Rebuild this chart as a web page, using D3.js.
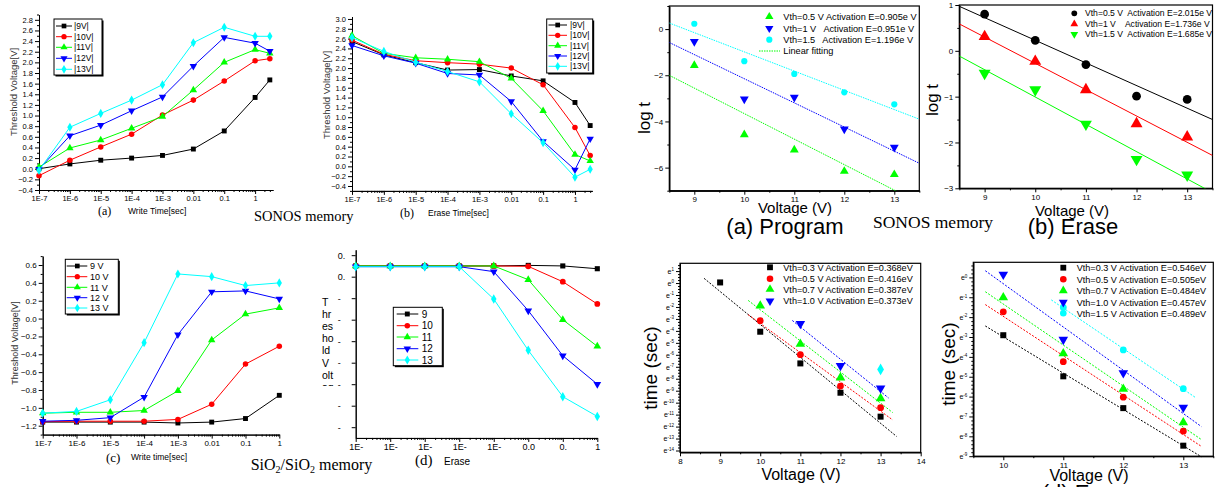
<!DOCTYPE html>
<html>
<head>
<meta charset="UTF-8">
<style>
  body { margin: 0; background: #fff; }
  svg { display: block; }
  text { font-family: "Liberation Sans", Arial, sans-serif; fill: #000; }
  .serif { font-family: "Liberation Serif", "Times New Roman", serif; }
  .pre { white-space: pre; }
</style>
<script src="https://cdn.jsdelivr.net/npm/d3@7"></script>
</head>
<body>
<script>
// ---------- data ----------
var timeSonos = [1e-7, 1e-6, 1e-5, 1e-4, 1e-3, 0.01, 0.1, 1, 3];
var timeOxide = [1e-7, 1e-6, 1e-5, 1e-4, 1e-3, 0.01, 0.1, 1];
var timeTickLabels = ["1E-7", "1E-6", "1E-5", "1E-4", "1E-3", "0.01", "0.1", "1"];
var timeTickLabelsCut = ["1E-", "1E-", "1E-", "1E-", "1E-", "0.0", "0.", "1"];
var sonosNames = ["|9V|", "|10V|", "|11V|", "|12V|", "|13V|"];
var oxideNames = ["9 V", "10 V", "11 V", "12 V", "13 V"];
var oxideEraseNames = ["9", "10", "11", "12", "13"];

// (a) SONOS write
var sonosWrite9  = [0.00, 0.09, 0.16, 0.20, 0.25, 0.37, 0.71, 1.34, 1.67];
var sonosWrite10 = [-0.13, 0.16, 0.41, 0.65, 1.01, 1.29, 1.65, 2.03, 2.07];
var sonosWrite11 = [0.03, 0.39, 0.54, 0.76, 0.98, 1.48, 2.00, 2.24, 2.17];
var sonosWrite12 = [-0.01, 0.62, 0.82, 1.09, 1.35, 1.93, 2.47, 2.36, 2.21];
var sonosWrite13 = [-0.03, 0.78, 1.04, 1.29, 1.58, 2.37, 2.66, 2.49, 2.49];

// (b) SONOS erase
var sonosErase9  = [2.54, 2.27, 2.11, 1.96, 1.97, 1.84, 1.74, 1.30, 0.83];
var sonosErase10 = [2.57, 2.28, 2.15, 2.11, 2.08, 2.00, 1.66, 0.79, 0.22];
var sonosErase11 = [2.66, 2.30, 2.21, 2.18, 2.13, 1.79, 1.13, 0.24, 0.11];
var sonosErase12 = [2.46, 2.25, 2.10, 1.89, 1.86, 1.32, 0.51, -0.07, 0.56];
var sonosErase13 = [2.62, 2.34, 2.12, 1.93, 1.72, 1.07, 0.48, -0.22, -0.06];

// (c) SiO2 write
var oxWrite9  = [-1.16, -1.16, -1.16, -1.16, -1.17, -1.16, -1.12, -0.86];
var oxWrite10 = [-1.155, -1.15, -1.15, -1.15, -1.13, -0.96, -0.51, -0.31];
var oxWrite11 = [-1.06, -1.05, -1.05, -1.03, -0.81, -0.24, 0.05, 0.12];
var oxWrite12 = [-1.15, -1.14, -1.11, -0.88, -0.18, 0.30, 0.31, 0.22];
var oxWrite13 = [-1.06, -1.04, -0.91, -0.27, 0.50, 0.47, 0.37, 0.40];

// (d) SiO2 erase
var oxErase9  = [0.10, 0.10, 0.10, 0.10, 0.10, 0.105, 0.10, 0.074];
var oxErase10 = [0.10, 0.10, 0.10, 0.10, 0.10, 0.096, -0.047, -0.254];
var oxErase11 = [0.10, 0.10, 0.10, 0.10, 0.10, -0.028, -0.40, -0.648];
var oxErase12 = [0.093, 0.093, 0.093, 0.093, 0.047, -0.316, -0.735, -1.00];
var oxErase13 = [0.093, 0.093, 0.093, 0.093, -0.208, -0.685, -1.116, -1.30];
var oxEraseYLabel = ["T", "hr", "es", "ho", "ld", "V", "olt", "ag"];

// SONOS activation, log t vs voltage
var voltages = [9, 10, 11, 12, 13];
var progNames = ["Vth=0.5 V Activation E=0.905e V", "Vth=1 V   Activation E=0.951e V", "Vth=1.5   Activation E=1.196e V"];
var progVth05 = [-1.57, -4.57, -5.23, -6.16, -6.30];
var progVth10 = [-0.54, -3.03, -2.96, -4.33, -5.12];
var progVth15 = [0.23, -1.39, -1.94, -2.74, -3.26];

var eraseNames = ["Vth=0.5 V  Activation E=2.015e V", "Vth=1 V    Activation E=1.736e V", "Vth=1.5 V  Activation E=1.685e V"];
var eraseVth05 = [0.80, 0.23, -0.30, -0.99, -1.06];
var eraseVth10 = [0.31, -0.23, -0.85, -1.59, -1.88];
var eraseVth15 = [-0.49, -0.85, -1.60, -2.37, -2.71];

// SiO2 activation, ln t vs voltage
var oxProgNames = ["Vth=0.3 V Activation E=0.368eV", "Vth=0.5 V Activation E=0.416eV", "Vth=0.7 V Activation E=0.387eV", "Vth=1.0 V Activation E=0.373eV"];
var oxProgX03 = [9, 10, 11, 12, 13],  oxProgY03 = [0.05, -4.07, -6.72, -9.17, -11.17];
var oxProgX05 = [10, 11, 12, 13],     oxProgY05 = [-3.15, -5.99, -8.61, -10.42];
var oxProgX07 = [10, 11, 12, 13],     oxProgY07 = [-1.90, -5.10, -7.91, -9.64];
var oxProgX10 = [11, 12, 13],         oxProgY10 = [-3.40, -6.91, -8.80];
var oxProgX15 = [13],                 oxProgY15 = [-7.22];

var oxEraseNames = ["Vth=0.3 V Activation E=0.546eV", "Vth=0.5 V Activation E=0.505eV", "Vth=0.7 V Activation E=0.484eV", "Vth=1.0 V Activation E=0.457eV", "Vth=1.5 V Activation E=0.489eV"];
var oxEraseX03 = [10, 11, 12, 13], oxEraseY03 = [-2.91, -4.98, -6.58, -8.47];
var oxEraseX05 = [10, 11, 12, 13], oxEraseY05 = [-1.73, -4.24, -6.03, -7.74];
var oxEraseX07 = [10, 11, 12, 13], oxEraseY07 = [-1.01, -3.83, -5.62, -7.30];
var oxEraseX10 = [10, 11, 12, 13], oxEraseY10 = [0.15, -3.13, -4.81, -6.55];
var oxEraseX15 = [11, 12, 13],     oxEraseY15 = [-1.51, -3.65, -5.60];

// ---------- drawing ----------
var black = "#000000", red = "#ff0000", green = "#00ff00", blue = "#0000ff", cyan = "#00ffff";
var fiveColors = [black, red, green, blue, cyan];
var fiveKinds = ["square", "circle", "up", "down", "diamond"];

var svg = d3.select("body").append("svg").attr("width", 1217).attr("height", 487);
var defs = svg.append("defs");

function mark(g, kind, x, y, size, color) {
  var t = { square: d3.symbolSquare, circle: d3.symbolCircle, up: d3.symbolTriangle,
            down: d3.symbolTriangle, diamond: d3.symbolDiamond }[kind];
  g.append("path")
    .attr("d", d3.symbol(t, size)())
    .attr("transform", "translate(" + x + "," + y + ")" + (kind == "down" ? " rotate(180)" : ""))
    .attr("fill", color);
}

function styleAxis(sel, fs) {
  sel.attr("font-size", fs);
  sel.selectAll("path").attr("stroke-width", 1);
  sel.selectAll("line").attr("stroke-width", 1);
}

function logTimeAxis(g, x, y0, labels, fs) {
  var majors = d3.range(-7, 1).map(function(e) { return Math.pow(10, e); });
  var minors = [];
  for (var e = -7; e < 1; e++)
    for (var k = 2; k < 10; k++) {
      var v = k * Math.pow(10, e);
      if (v <= x.domain()[1]) minors.push(v);
    }
  g.append("g").attr("transform", "translate(0," + y0 + ")")
    .call(d3.axisBottom(x).tickValues(minors).tickFormat("").tickSize(2).tickSizeOuter(0))
    .call(styleAxis, fs);
  return g.append("g").attr("transform", "translate(0," + y0 + ")")
    .call(d3.axisBottom(x).tickValues(majors).tickFormat(function(d, i) { return labels[i]; })
      .tickSize(4).tickSizeOuter(0).tickPadding(2))
    .call(styleAxis, fs);
}

function leftAxis(g, y, x0, majors, fmt, minors, fs) {
  g.append("g").attr("transform", "translate(" + x0 + ",0)")
    .call(d3.axisLeft(y).tickValues(minors).tickFormat("").tickSize(2).tickSizeOuter(0))
    .call(styleAxis, fs);
  return g.append("g").attr("transform", "translate(" + x0 + ",0)")
    .call(d3.axisLeft(y).tickValues(majors).tickFormat(fmt).tickSize(4).tickSizeOuter(0).tickPadding(2))
    .call(styleAxis, fs);
}

function bottomAxis(g, x, y0, majors, fmt, minors, fs) {
  g.append("g").attr("transform", "translate(0," + y0 + ")")
    .call(d3.axisBottom(x).tickValues(minors).tickFormat("").tickSize(2).tickSizeOuter(0))
    .call(styleAxis, fs);
  return g.append("g").attr("transform", "translate(0," + y0 + ")")
    .call(d3.axisBottom(x).tickValues(majors).tickFormat(fmt).tickSize(4).tickSizeOuter(0).tickPadding(2))
    .call(styleAxis, fs);
}

function series(g, x, y, xs, ys, color, kind, size, withLine) {
  if (withLine) {
    var line = d3.line().x(function(d) { return x(d[0]); }).y(function(d) { return y(d[1]); });
    g.append("path").attr("d", line(d3.zip(xs, ys)))
      .attr("fill", "none").attr("stroke", color).attr("stroke-width", 1);
  }
  xs.forEach(function(v, i) { mark(g, kind, x(v), y(ys[i]), size, color); });
}

function fitLine(g, x, y, xs, ys, color, dash, x1, x2) {
  var mx = d3.mean(xs), my = d3.mean(ys);
  var b = d3.sum(xs, function(v, i) { return (v - mx) * (ys[i] - my); }) /
          d3.sum(xs, function(v) { return (v - mx) * (v - mx); });
  var a = my - b * mx;
  var ext = (d3.max(xs) - d3.min(xs)) * 0.1;
  if (x1 == null) { x1 = d3.min(xs) - ext; x2 = d3.max(xs) + ext; }
  g.append("line")
    .attr("x1", x(x1)).attr("y1", y(a + b * x1))
    .attr("x2", x(x2)).attr("y2", y(a + b * x2))
    .attr("stroke", color).attr("stroke-width", 1)
    .attr("stroke-dasharray", dash);
}

function boxLegend(g, box, rows, names, lx1, lx2, mx, tx, fs, msize) {
  g.append("rect").attr("x", box[0] + 1.5).attr("y", box[1] + 1.5).attr("width", box[2]).attr("height", box[3])
    .attr("fill", "#000");
  g.append("rect").attr("x", box[0]).attr("y", box[1]).attr("width", box[2]).attr("height", box[3])
    .attr("fill", "#fff").attr("stroke", "#000").attr("stroke-width", 1);
  rows.forEach(function(ry, i) {
    g.append("line").attr("x1", lx1).attr("x2", lx2).attr("y1", ry).attr("y2", ry)
      .attr("stroke", fiveColors[i]).attr("stroke-width", 1);
    mark(g, fiveKinds[i], mx, ry, msize, fiveColors[i]);
    g.append("text").attr("x", tx).attr("y", ry).attr("dy", "0.36em").attr("font-size", fs).text(names[i]);
  });
}

function rotLabel(g, x, y, txt, fs, color) {
  g.append("text").attr("transform", "translate(" + x + "," + y + ") rotate(-90)")
    .attr("text-anchor", "middle").attr("dy", "0.35em").attr("font-size", fs)
    .style("fill", color || "#000").text(txt);
}

function frame(g, x, y) {
  g.append("rect").attr("x", x.range()[0]).attr("y", y.range()[1])
    .attr("width", x.range()[1] - x.range()[0]).attr("height", y.range()[0] - y.range()[1])
    .attr("fill", "none").attr("stroke", "#000").attr("stroke-width", 1.2);
}

function clipFor(id, x, y) {
  defs.append("clipPath").attr("id", id).append("rect")
    .attr("x", x.range()[0]).attr("y", y.range()[1])
    .attr("width", x.range()[1] - x.range()[0]).attr("height", y.range()[0] - y.range()[1]);
  return "url(#" + id + ")";
}

function tenths(lo, hi) { return d3.range(lo, hi + 1).map(function(i) { return i / 10; }); }
function oddTenths(lo, hi) { return tenths(lo, hi).filter(function(v, i) { return (lo + i) % 2 != 0; }); }
var f1 = d3.format(".1f");

// ===== (a) SONOS write =====
(function() {
  var g = svg.append("g");
  var x = d3.scaleLog().domain([1e-7, 3.8]).range([39, 273]);
  var y = d3.scaleLinear().domain([-0.4, 2.9]).range([190, 14.5]);
  leftAxis(g, y, 39, tenths(-4, 28).filter(function(v, i) { return i % 2 == 0; }), f1, oddTenths(-4, 29), 7.5);
  logTimeAxis(g, x, 190, timeTickLabels, 7.5);
  [sonosWrite9, sonosWrite10, sonosWrite11, sonosWrite12, sonosWrite13].forEach(function(s, i) {
    series(g, x, y, timeSonos, s, fiveColors[i], fiveKinds[i], 24, true);
  });
  boxLegend(g, [54, 19, 48, 56], [26, 36.7, 47.3, 58.3, 69.3], sonosNames, 56, 72, 64, 74, 8.5, 22);
  rotLabel(g, 14, 92, "Threshold Voltage[V]", 9.5, "#333");
  g.append("text").attr("class", "serif").attr("x", 98).attr("y", 215).attr("font-size", 12).text("(a)");
  g.append("text").attr("x", 128).attr("y", 214).attr("font-size", 8.5).text("Write Time[sec]");
  g.append("text").attr("class", "serif").attr("x", 254).attr("y", 221).attr("font-size", 14.5).text("SONOS memory");
})();

// ===== (b) SONOS erase =====
(function() {
  var g = svg.append("g");
  var x = d3.scaleLog().domain([1e-7, 3.5]).range([352, 592.3]);
  var y = d3.scaleLinear().domain([-0.5, 3.05]).range([190.9, 16.5]);
  leftAxis(g, y, 352, tenths(-4, 30).filter(function(v, i) { return i % 2 == 0; }), f1, oddTenths(-5, 30), 7.5);
  logTimeAxis(g, x, 190.9, timeTickLabels, 7.5);
  [sonosErase9, sonosErase10, sonosErase11, sonosErase12, sonosErase13].forEach(function(s, i) {
    series(g, x, y, timeSonos, s, fiveColors[i], fiveKinds[i], 24, true);
  });
  boxLegend(g, [546.7, 19, 46, 54], [25, 35.3, 45.7, 56, 66.3], sonosNames, 548.5, 567, 557.7, 570, 8.5, 22);
  rotLabel(g, 327, 95, "Threshold Voltage[V]", 9.5, "#333");
  g.append("text").attr("class", "serif").attr("x", 400).attr("y", 217).attr("font-size", 12).text("(b)");
  g.append("text").attr("x", 428).attr("y", 216).attr("font-size", 8.5).text("Erase Time[sec]");
})();

// ===== (c) SiO2 write =====
(function() {
  var g = svg.append("g");
  var x = d3.scaleLog().domain([1e-7, 1]).range([42.7, 279.3]);
  var y = d3.scaleLinear().domain([-1.3, 0.7]).range([434.6, 256.1]);
  leftAxis(g, y, 42.7, tenths(-12, 6).filter(function(v, i) { return i % 2 == 0; }), f1, oddTenths(-13, 7), 8);
  logTimeAxis(g, x, 434.6, timeTickLabels, 8);
  [oxWrite9, oxWrite10, oxWrite11, oxWrite12, oxWrite13].forEach(function(s, i) {
    series(g, x, y, timeOxide, s, fiveColors[i], fiveKinds[i], 24, true);
  });
  boxLegend(g, [65.3, 259.3, 53, 54.7], [266, 276.7, 287.3, 297.7, 308], oxideNames, 66.7, 87.3, 77.3, 90, 9, 22);
  rotLabel(g, 14.5, 343, "Threshold Voltage[V]", 9, "#333");
  g.append("text").attr("class", "serif").attr("x", 106).attr("y", 462).attr("font-size", 13).text("(c)");
  g.append("text").attr("x", 131).attr("y", 460).attr("font-size", 8.5).text("Write time[sec]");
  var t = g.append("text").attr("class", "serif").attr("x", 250.7).attr("y", 470).attr("font-size", 16);
  t.append("tspan").text("SiO");
  t.append("tspan").attr("font-size", 10).attr("dy", 3).text("2");
  t.append("tspan").attr("dy", -3).text("/SiO");
  t.append("tspan").attr("font-size", 10).attr("dy", 3).text("2");
  t.append("tspan").attr("dy", -3).text(" memory");
})();

// ===== (d) SiO2 erase =====
(function() {
  var g = svg.append("g");
  var x = d3.scaleLog().domain([1e-7, 1]).range([355.7, 597.3]);
  var y = d3.scaleLinear().domain([-1.5, 0.25]).range([437.95, 249.8]);
  var ax = leftAxis(g, y, 355.7, tenths(-14, 2).filter(function(v, i) { return i % 2 == 0; }),
    function(d) { return d >= -0.001 ? "0." : "-"; }, [], 9);
  ax.selectAll(".tick text").attr("x", -18).attr("text-anchor", "start");
  logTimeAxis(g, x, 437.95, timeTickLabelsCut, 9);
  [oxErase9, oxErase10, oxErase11, oxErase12, oxErase13].forEach(function(s, i) {
    series(g, x, y, timeOxide, s, fiveColors[i], fiveKinds[i], 26, true);
  });
  boxLegend(g, [393.3, 307.3, 49, 58.4], [314, 325.7, 337, 348.7, 360], oxideEraseNames, 396.7, 418.3, 407.3, 421.7, 10, 24);
  defs.append("clipPath").attr("id", "ylabD").append("rect").attr("x", 310).attr("y", 290).attr("width", 30).attr("height", 96);
  var lab = g.append("g").attr("clip-path", "url(#ylabD)");
  oxEraseYLabel.forEach(function(s, i) {
    lab.append("text").attr("x", 322).attr("y", 306 + i * 12.1).attr("font-size", 10.5).text(s);
  });
  g.append("text").attr("class", "serif").attr("x", 415).attr("y", 465).attr("font-size", 15).text("(d)");
  g.append("text").attr("x", 444).attr("y", 464.5).attr("font-size", 10).text("Erase");
})();

// ===== SONOS program activation =====
(function() {
  var g = svg.append("g");
  var x = d3.scaleLinear().domain([8.5, 13.5]).range([669.3, 919.3]);
  var y = d3.scaleLinear().domain([-7, 1]).range([190.7, 6]);
  bottomAxis(g, x, 190.7, voltages, d3.format("d"), [8.5, 9.5, 10.5, 11.5, 12.5, 13.5], 8);
  leftAxis(g, y, 669.3, [0, -2, -4, -6], d3.format("d"), [1, -1, -3, -5, -7], 8);
  frame(g, x, y);
  var inner = g.append("g").attr("clip-path", clipFor("clipP", x, y));
  fitLine(inner, x, y, voltages, progVth05, green, "1.5,1", 8.5, 13.5);
  fitLine(inner, x, y, voltages, progVth10, blue, "1.5,1", 8.5, 13.5);
  fitLine(inner, x, y, voltages, progVth15, cyan, "1.5,1", 8.5, 13.5);
  series(g, x, y, voltages, progVth05, green, "up", 34, false);
  series(g, x, y, voltages, progVth10, blue, "down", 34, false);
  series(g, x, y, voltages, progVth15, cyan, "circle", 30, false);
  var rows = [16.7, 28.3, 39.7];
  [[green, "up"], [blue, "down"], [cyan, "circle"]].forEach(function(m, i) {
    mark(g, m[1], 769.3, rows[i], 30, m[0]);
    g.append("text").attr("class", "pre").attr("x", 783.3).attr("y", rows[i]).attr("dy", "0.36em")
      .attr("font-size", 9.2).text(progNames[i]);
  });
  g.append("line").attr("x1", 759).attr("x2", 780).attr("y1", 51).attr("y2", 51)
    .attr("stroke", green).attr("stroke-dasharray", "1.5,1");
  g.append("text").attr("x", 783.3).attr("y", 51).attr("dy", "0.36em").attr("font-size", 9.2).text("Linear fitting");
  rotLabel(g, 644, 118, "log t", 17);
  g.append("text").attr("x", 795).attr("y", 213).attr("text-anchor", "middle").attr("font-size", 15).text("Voltage (V)");
  g.append("text").attr("x", 785).attr("y", 234).attr("text-anchor", "middle").attr("font-size", 22).text("(a) Program");
  g.append("text").attr("class", "serif").attr("x", 873).attr("y", 228).attr("font-size", 17.5).text("SONOS memory");
})();

// ===== SONOS erase activation =====
(function() {
  var g = svg.append("g");
  var x = d3.scaleLinear().domain([8.5, 13.5]).range([959.3, 1212.5]);
  var y = d3.scaleLinear().domain([-3, 1]).range([188.3, 5]);
  bottomAxis(g, x, 188.3, voltages, d3.format("d"), [8.5, 9.5, 10.5, 11.5, 12.5, 13.5], 8);
  leftAxis(g, y, 959.3, [1, 0, -1, -2, -3], d3.format("d"), [0.5, -0.5, -1.5, -2.5], 8);
  frame(g, x, y);
  var inner = g.append("g").attr("clip-path", clipFor("clipE", x, y));
  fitLine(inner, x, y, voltages, eraseVth05, black, null, 8.5, 13.5);
  fitLine(inner, x, y, voltages, eraseVth10, red, null, 8.5, 13.5);
  fitLine(inner, x, y, voltages, eraseVth15, green, null, 8.5, 13.5);
  series(g, x, y, voltages, eraseVth05, black, "circle", 60, false);
  series(g, x, y, voltages, eraseVth10, red, "up", 62, false);
  series(g, x, y, voltages, eraseVth15, green, "down", 62, false);
  var rows = [13.3, 24, 34.3];
  [[black, "circle"], [red, "up"], [green, "down"]].forEach(function(m, i) {
    mark(g, m[1], 1074.3, rows[i], 26, m[0]);
    g.append("text").attr("class", "pre").attr("x", 1085).attr("y", rows[i]).attr("dy", "0.36em")
      .attr("font-size", 8.6).text(eraseNames[i]);
  });
  rotLabel(g, 932, 100, "log t", 17);
  g.append("text").attr("x", 1072).attr("y", 216).attr("text-anchor", "middle").attr("font-size", 15).text("Voltage (V)");
  g.append("text").attr("x", 1073).attr("y", 234).attr("text-anchor", "middle").attr("font-size", 22).text("(b) Erase");
})();

function expLabels(ax) {
  ax.selectAll(".tick text").each(function(d) {
    var t = d3.select(this).text("e");
    t.append("tspan").attr("dy", -2.5).attr("font-size", 4.5).text(d);
  });
}

// ===== SiO2 program activation =====
(function() {
  var g = svg.append("g");
  var x = d3.scaleLinear().domain([8, 14]).range([680, 920.7]);
  var y = d3.scaleLinear().domain([-14.15, 1.65]).range([452.3, 263.3]);
  var half = d3.range(8.5, 14, 1);
  bottomAxis(g, x, 452.3, [8, 9, 10, 11, 12, 13, 14], d3.format("d"), half, 8);
  var minor = d3.range(-56, 7).map(function(i) { return i / 4; }).filter(function(v) { return v % 1 != 0; });
  var ax = leftAxis(g, y, 680, d3.range(1, -15, -1), d3.format("d"), minor, 7);
  expLabels(ax);
  frame(g, x, y);
  fitLine(g, x, y, oxProgX03, oxProgY03, black, "2,1.5");
  fitLine(g, x, y, oxProgX05, oxProgY05, red, "2,1.5");
  fitLine(g, x, y, oxProgX07, oxProgY07, green, "2,1.5");
  fitLine(g, x, y, oxProgX10, oxProgY10, blue, "2,1.5");
  series(g, x, y, oxProgX03, oxProgY03, black, "square", 36, false);
  series(g, x, y, oxProgX05, oxProgY05, red, "circle", 36, false);
  series(g, x, y, oxProgX07, oxProgY07, green, "up", 40, false);
  series(g, x, y, oxProgX10, oxProgY10, blue, "down", 40, false);
  series(g, x, y, oxProgX15, oxProgY15, cyan, "diamond", 40, false);
  var rows = [267.3, 278.7, 289.3, 301];
  oxProgNames.forEach(function(n, i) {
    mark(g, fiveKinds[i], 770, rows[i], 34, fiveColors[i]);
    g.append("text").attr("x", 783.3).attr("y", rows[i]).attr("dy", "0.36em").attr("font-size", 9.1).text(n);
  });
  rotLabel(g, 650, 368, "time (sec)", 19);
  g.append("text").attr("x", 801).attr("y", 480).attr("text-anchor", "middle").attr("font-size", 16).text("Voltage (V)");
})();

// ===== SiO2 erase activation =====
(function() {
  var g = svg.append("g");
  var x = d3.scaleLinear().domain([9.5, 13.5]).range([973.3, 1213.3]);
  var y = d3.scaleLinear().domain([-9, 0.76]).range([456.2, 262.3]);
  bottomAxis(g, x, 456.2, [10, 11, 12, 13], d3.format("d"), [9.5, 10.5, 11.5, 12.5, 13.5], 8);
  var minor = d3.range(-45, 4).map(function(i) { return i / 5; }).filter(function(v) { return Math.abs(v % 1) > 0.01; });
  var ax = leftAxis(g, y, 973.3, d3.range(0, -10, -1), d3.format("d"), minor, 7);
  expLabels(ax);
  frame(g, x, y);
  fitLine(g, x, y, oxEraseX03, oxEraseY03, black, "2,1.5");
  fitLine(g, x, y, oxEraseX05, oxEraseY05, red, "2,1.5");
  fitLine(g, x, y, oxEraseX07, oxEraseY07, green, "2,1.5");
  fitLine(g, x, y, oxEraseX10, oxEraseY10, blue, "2,1.5");
  fitLine(g, x, y, oxEraseX15, oxEraseY15, cyan, "2,1.5");
  series(g, x, y, oxEraseX03, oxEraseY03, black, "square", 36, false);
  series(g, x, y, oxEraseX05, oxEraseY05, red, "circle", 36, false);
  series(g, x, y, oxEraseX07, oxEraseY07, green, "up", 40, false);
  series(g, x, y, oxEraseX10, oxEraseY10, blue, "down", 40, false);
  series(g, x, y, oxEraseX15, oxEraseY15, cyan, "circle", 36, false);
  var rows = [267.7, 279.3, 290.7, 302.3, 313.3];
  var kinds = ["square", "circle", "up", "down", "circle"];
  oxEraseNames.forEach(function(n, i) {
    mark(g, kinds[i], 1063.3, rows[i], 34, fiveColors[i]);
    g.append("text").attr("x", 1076.7).attr("y", rows[i]).attr("dy", "0.36em").attr("font-size", 9.1).text(n);
  });
  rotLabel(g, 948, 364, "time (sec)", 19);
  g.append("text").attr("x", 1089).attr("y", 481).attr("text-anchor", "middle").attr("font-size", 16).text("Voltage (V)");
  g.append("text").attr("x", 1087).attr("y", 500).attr("text-anchor", "middle").attr("font-size", 22).text("(d) Erase");
})();
</script>
</body>
</html>
